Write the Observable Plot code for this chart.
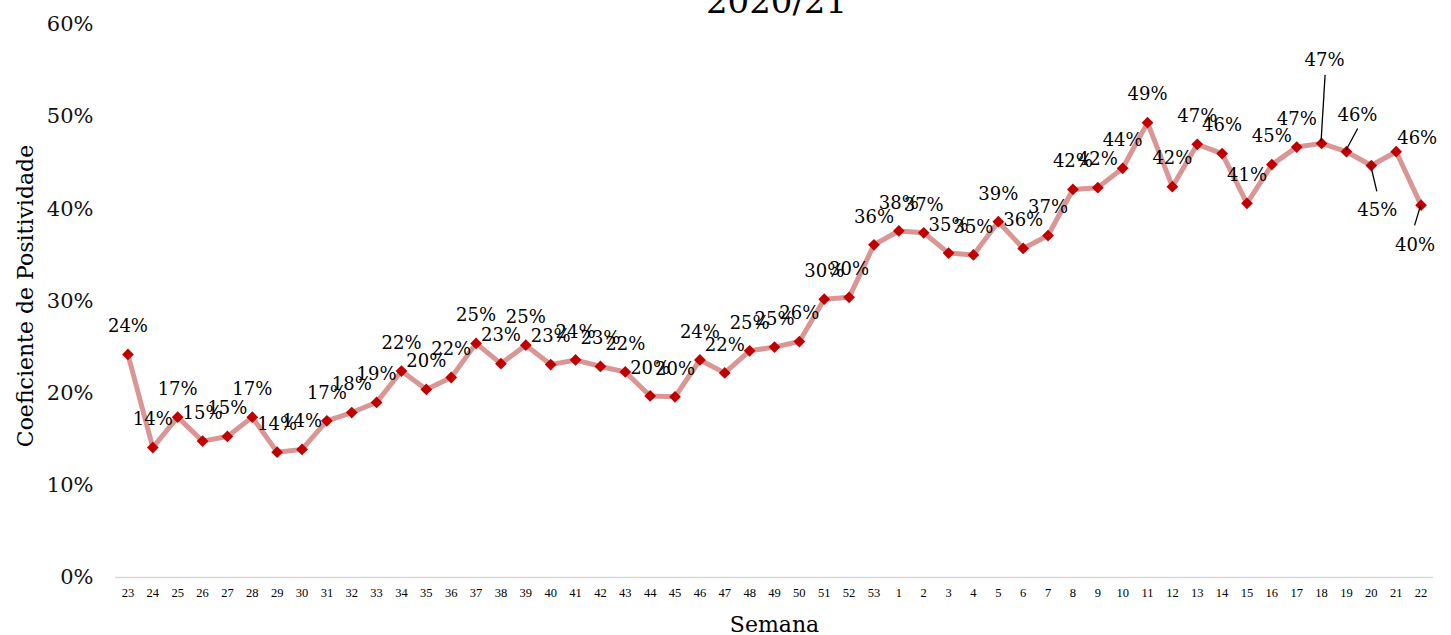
<!DOCTYPE html>
<html>
<head>
<meta charset="utf-8">
<script src="https://cdn.jsdelivr.net/npm/d3@7"></script>
<script src="https://cdn.jsdelivr.net/npm/@observablehq/plot@0.6"></script>
<style>
  body { margin: 0; background: #fff; }
  #chart { width: 1451px; height: 635px; overflow: hidden; }
</style>
</head>
<body>
<div id="chart"></div>
<script>
// ---- data ----
const weeks = ["23","24","25","26","27","28","29","30","31","32","33","34","35","36","37","38","39","40",
  "41","42","43","44","45","46","47","48","49","50","51","52","53",
  "1","2","3","4","5","6","7","8","9","10","11","12","13","14","15","16","17","18","19","20","21","22"];
const positivity = [0.242,0.141,0.174,0.148,0.153,0.174,0.136,0.139,0.170,0.179,0.190,0.224,0.204,0.217,
  0.254,0.232,0.252,0.231,0.236,0.229,0.223,0.197,0.196,0.236,0.222,0.246,0.250,0.256,0.302,0.304,0.361,
  0.376,0.374,0.352,0.350,0.386,0.357,0.371,0.421,0.423,0.444,0.4935,0.424,0.470,0.460,0.406,0.448,0.467,
  0.471,0.462,0.447,0.462,0.404];
const yTicks = [0, 0.1, 0.2, 0.3, 0.4, 0.5, 0.6];
const chartTitle = "2020/21";
const xTitle = "Semana";
const yTitle = "Coeficiente de Positividade";

// ---- label placement overrides (pixel offsets, styling only) ----
const labelPlacement = {
  "18": {dx: 3, dy: -83, line: [0, -2, 4, -68]},
  "19": {dx: 11, dy: -36, line: [0, -1, 11.7, -22.7]},
  "20": {dx: 6, dy: 45, line: [0, 1, 6, 26.4]},
  "21": {dx: 21, dy: -13},
  "22": {dx: -6, dy: 40, line: [0, 1, -6, 20.7]}
};

const fmt = d3.format(".0%");
const data = weeks.map((w, i) => ({week: w, value: positivity[i], label: fmt(positivity[i])}));
const special = new Set(Object.keys(labelPlacement));
const serif = "DejaVu Serif";

function leaderLines(index, scales) {
  const g = d3.create("svg:g");
  for (const [wk, o] of Object.entries(labelPlacement)) {
    if (!o.line) continue;
    const d = data.find(e => e.week === wk);
    const x = scales.x(d.week), y = scales.y(d.value);
    g.append("line")
      .attr("x1", x + o.line[0]).attr("y1", y + o.line[1])
      .attr("x2", x + o.line[2]).attr("y2", y + o.line[3])
      .attr("stroke", "#000").attr("stroke-width", 1.3);
  }
  return g.node();
}

const chart = Plot.plot({
  width: 1451,
  height: 635,
  marginLeft: 115,
  marginRight: 18,
  marginTop: 24,
  marginBottom: 58,
  style: {background: "#fff"},
  x: {type: "point", domain: weeks, padding: 0.5, label: null},
  y: {domain: [0, 0.6], label: null},
  marks: [
    Plot.ruleY([0], {stroke: "#d9d9d9", strokeWidth: 1.5}),
    Plot.axisY({ticks: yTicks, tickFormat: fmt, tickSize: 0, tickPadding: 22, fontSize: 21,
      fontFamily: serif, fill: "#111", label: null}),
    Plot.axisX({tickSize: 0, tickPadding: 11, fontSize: 12.5, fontFamily: "Liberation Serif",
      fill: "#000", label: null}),
    Plot.line(data, {x: "week", y: "value", stroke: "#d99694", strokeWidth: 5, strokeLinejoin: "round"}),
    Plot.dot(data, {x: "week", y: "value", symbol: "diamond2", r: 5.3, fill: "#c00000"}),
    Plot.text(data.filter(d => !special.has(d.week)), {x: "week", y: "value", text: "label", dy: -28,
      fontSize: 18, fontFamily: serif, fill: "#000"}),
    ...Object.entries(labelPlacement).map(([wk, o]) =>
      Plot.text(data.filter(d => d.week === wk), {x: "week", y: "value", text: "label", dx: o.dx, dy: o.dy,
        fontSize: 18, fontFamily: serif, fill: "#000"})),
    leaderLines,
    Plot.text([chartTitle], {text: d => d, frameAnchor: "top", dx: 2, dy: -36, fontSize: 34,
      fontFamily: serif, fill: "#000"}),
    Plot.text([xTitle], {text: d => d, frameAnchor: "bottom", dy: 54, fontSize: 22,
      fontFamily: serif, fill: "#000"}),
    Plot.text([yTitle], {text: d => d, frameAnchor: "left", textAnchor: "middle", rotate: -90,
      dx: -90, dy: -5, fontSize: 22, fontFamily: serif, fill: "#000"})
  ]
});
document.getElementById("chart").appendChild(chart);
</script>
</body>
</html>
